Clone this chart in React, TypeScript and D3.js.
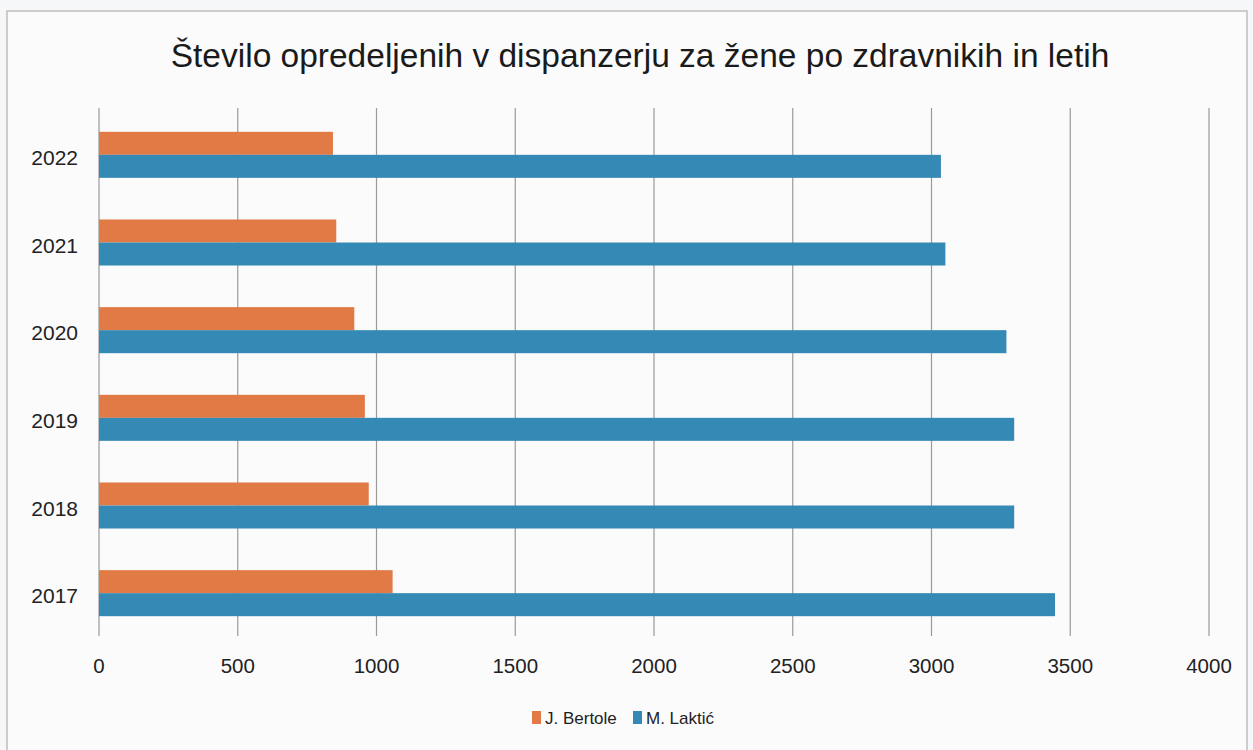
import React from "react";
import * as d3 from "d3";

const years = ["2022", "2021", "2020", "2019", "2018", "2017"];
const seriesNames = ["J. Bertole", "M. Laktić"];
const bertole = [843, 855, 920, 958, 972, 1058];
const laktic = [3034, 3050, 3270, 3298, 3298, 3445];
const xTicks = [0, 500, 1000, 1500, 2000, 2500, 3000, 3500, 4000];
const colors = ["#E27A45", "#3589B5"];
const title = "Število opredeljenih v dispanzerju za žene po zdravnikih in letih";

const W = 1253;
const H = 750;

export default function App() {
  const x = d3.scaleLinear().domain([0, 4000]).range([99, 1209]);
  const y = d3.scaleBand().domain(years).range([111, 637]).paddingInner(0.475).paddingOuter(0.2375);
  const inner = d3.scaleBand().domain(seriesNames).range([0, y.bandwidth()]);
  const font = "Liberation Sans, Arial, sans-serif";
  const values = [bertole, laktic];

  return (
    <svg width={W} height={H} style={{ position: "absolute", left: 0, top: 0 }} fontFamily={font}>
      <rect x={0} y={0} width={W} height={H} fill="#f6f7f8" />
      <rect x={7} y={11} width={1240} height={745} fill="#fbfbfc" stroke="#b0b0b0" strokeWidth={1.2} />
      <text x={640} y={67} textAnchor="middle" fontSize={33.5} fill="#1a1a1a">{title}</text>
      {xTicks.map((t) => (
        <g key={t}>
          <line x1={x(t)} x2={x(t)} y1={108} y2={636} stroke="#9a9a9a" strokeWidth={1.2} />
          <text x={x(t)} y={673} textAnchor="middle" fontSize={20.5} fill="#222">{t}</text>
        </g>
      ))}
      {years.map((yr, i) => (
        <g key={yr}>
          <text x={78} y={(y(yr) as number) + y.bandwidth() / 2 + 10} textAnchor="end" fontSize={21} fill="#222">{yr}</text>
          {seriesNames.map((s, j) => (
            <rect
              key={s}
              x={x(0)}
              y={(y(yr) as number) + (inner(s) as number)}
              width={x(values[j][i]) - x(0)}
              height={inner.bandwidth()}
              fill={colors[j]}
            />
          ))}
        </g>
      ))}
      <g>
        {seriesNames.map((s, j) => {
          const lx = [532, 633][j];
          return (
            <g key={s}>
              <rect x={lx} y={711} width={9} height={13} fill={colors[j]} />
              <text x={lx + 13} y={724} fontSize={17} fill="#222">{s}</text>
            </g>
          );
        })}
      </g>
    </svg>
  );
}
